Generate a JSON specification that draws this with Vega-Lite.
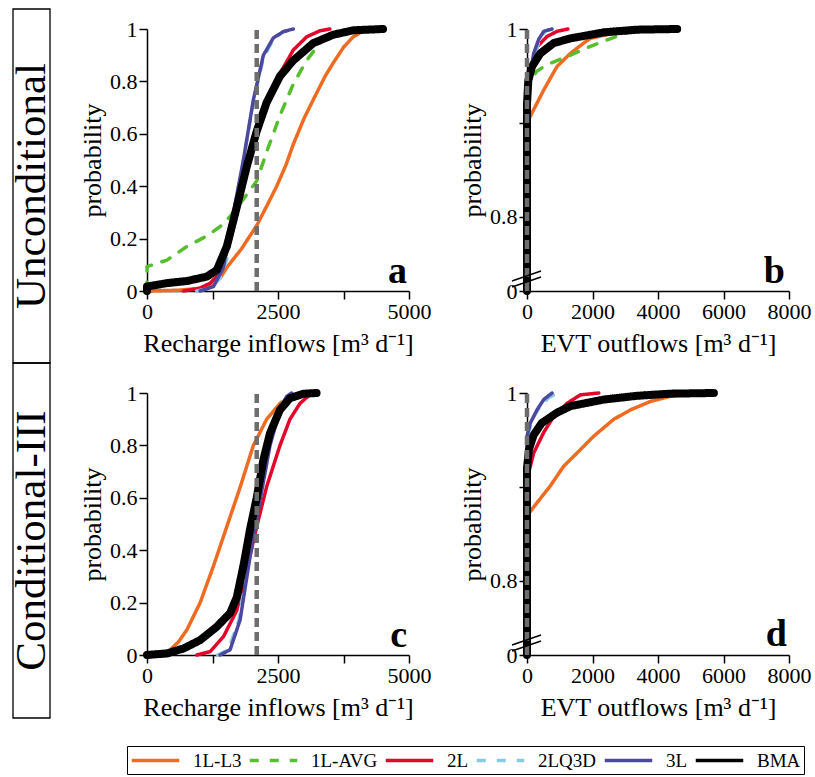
{
"$schema": "https://vega.github.io/schema/vega-lite/v6.json",
"background": "white",
"padding": {"left": 10, "top": 8, "right": 2, "bottom": 1},
"bounds": "flush",
"columns": 3,
"spacing": {"row": 102, "column": 118},
"datasets": {
"cdf": [
{"panel":"a","model":"1L-L3","x":0,"p":0},{"panel":"a","model":"1L-L3","x":600,"p":0.003},{"panel":"a","model":"1L-L3","x":1000,"p":0.01},{"panel":"a","model":"1L-L3","x":1205,"p":0.02},{"panel":"a","model":"1L-L3","x":1400,"p":0.05},{"panel":"a","model":"1L-L3","x":1523,"p":0.09},{"panel":"a","model":"1L-L3","x":1800,"p":0.16},{"panel":"a","model":"1L-L3","x":2094,"p":0.25},{"panel":"a","model":"1L-L3","x":2300,"p":0.33},{"panel":"a","model":"1L-L3","x":2475,"p":0.40},{"panel":"a","model":"1L-L3","x":2650,"p":0.48},{"panel":"a","model":"1L-L3","x":2792,"p":0.56},{"panel":"a","model":"1L-L3","x":3000,"p":0.66},{"panel":"a","model":"1L-L3","x":3173,"p":0.73},{"panel":"a","model":"1L-L3","x":3400,"p":0.82},{"panel":"a","model":"1L-L3","x":3553,"p":0.87},{"panel":"a","model":"1L-L3","x":3750,"p":0.93},{"panel":"a","model":"1L-L3","x":3934,"p":0.97},{"panel":"a","model":"1L-L3","x":4188,"p":1.0},
{"panel":"a","model":"1L-AVG","x":0,"p":0},{"panel":"a","model":"1L-AVG","x":0,"p":0.093},{"panel":"a","model":"1L-AVG","x":381,"p":0.118},{"panel":"a","model":"1L-AVG","x":761,"p":0.17},{"panel":"a","model":"1L-AVG","x":1142,"p":0.21},{"panel":"a","model":"1L-AVG","x":1396,"p":0.246},{"panel":"a","model":"1L-AVG","x":1586,"p":0.284},{"panel":"a","model":"1L-AVG","x":1800,"p":0.34},{"panel":"a","model":"1L-AVG","x":2094,"p":0.42},{"panel":"a","model":"1L-AVG","x":2300,"p":0.54},{"panel":"a","model":"1L-AVG","x":2538,"p":0.67},{"panel":"a","model":"1L-AVG","x":2792,"p":0.79},{"panel":"a","model":"1L-AVG","x":3046,"p":0.88},{"panel":"a","model":"1L-AVG","x":3299,"p":0.946},{"panel":"a","model":"1L-AVG","x":3553,"p":0.985},{"panel":"a","model":"1L-AVG","x":3934,"p":1.0},
{"panel":"a","model":"2L","x":698,"p":0},{"panel":"a","model":"2L","x":1000,"p":0.01},{"panel":"a","model":"2L","x":1206,"p":0.03},{"panel":"a","model":"2L","x":1400,"p":0.07},{"panel":"a","model":"2L","x":1600,"p":0.2},{"panel":"a","model":"2L","x":1800,"p":0.38},{"panel":"a","model":"2L","x":2000,"p":0.55},{"panel":"a","model":"2L","x":2200,"p":0.67},{"panel":"a","model":"2L","x":2400,"p":0.77},{"panel":"a","model":"2L","x":2538,"p":0.83},{"panel":"a","model":"2L","x":2792,"p":0.92},{"panel":"a","model":"2L","x":3046,"p":0.97},{"panel":"a","model":"2L","x":3299,"p":0.993},{"panel":"a","model":"2L","x":3490,"p":1.0},
{"panel":"a","model":"2LQ3D","x":950,"p":0},{"panel":"a","model":"2LQ3D","x":1200,"p":0.01},{"panel":"a","model":"2LQ3D","x":1400,"p":0.05},{"panel":"a","model":"2LQ3D","x":1520,"p":0.12},{"panel":"a","model":"2LQ3D","x":1650,"p":0.29},{"panel":"a","model":"2LQ3D","x":1840,"p":0.50},{"panel":"a","model":"2LQ3D","x":2030,"p":0.72},{"panel":"a","model":"2LQ3D","x":2221,"p":0.89},{"panel":"a","model":"2LQ3D","x":2411,"p":0.96},{"panel":"a","model":"2LQ3D","x":2601,"p":0.99},{"panel":"a","model":"2LQ3D","x":2750,"p":1.0},
{"panel":"a","model":"3L","x":1015,"p":0},{"panel":"a","model":"3L","x":1269,"p":0.017},{"panel":"a","model":"3L","x":1459,"p":0.09},{"panel":"a","model":"3L","x":1650,"p":0.30},{"panel":"a","model":"3L","x":1840,"p":0.50},{"panel":"a","model":"3L","x":2030,"p":0.73},{"panel":"a","model":"3L","x":2221,"p":0.90},{"panel":"a","model":"3L","x":2411,"p":0.966},{"panel":"a","model":"3L","x":2601,"p":0.99},{"panel":"a","model":"3L","x":2792,"p":1.0},
{"panel":"a","model":"BMA","x":0,"p":0},{"panel":"a","model":"BMA","x":0,"p":0.017},{"panel":"a","model":"BMA","x":381,"p":0.03},{"panel":"a","model":"BMA","x":761,"p":0.038},{"panel":"a","model":"BMA","x":1142,"p":0.055},{"panel":"a","model":"BMA","x":1332,"p":0.08},{"panel":"a","model":"BMA","x":1523,"p":0.17},{"panel":"a","model":"BMA","x":1713,"p":0.32},{"panel":"a","model":"BMA","x":1904,"p":0.475},{"panel":"a","model":"BMA","x":2094,"p":0.61},{"panel":"a","model":"BMA","x":2284,"p":0.72},{"panel":"a","model":"BMA","x":2538,"p":0.82},{"panel":"a","model":"BMA","x":2792,"p":0.88},{"panel":"a","model":"BMA","x":3173,"p":0.946},{"panel":"a","model":"BMA","x":3553,"p":0.978},{"panel":"a","model":"BMA","x":3934,"p":0.995},{"panel":"a","model":"BMA","x":4505,"p":1.0},
{"panel":"b","model":"1L-L3","x":0,"p":0},{"panel":"b","model":"1L-L3","x":0,"p":0.9},{"panel":"b","model":"1L-L3","x":102,"p":0.907},{"panel":"b","model":"1L-L3","x":510,"p":0.935},{"panel":"b","model":"1L-L3","x":917,"p":0.96},{"panel":"b","model":"1L-L3","x":1325,"p":0.974},{"panel":"b","model":"1L-L3","x":1732,"p":0.985},{"panel":"b","model":"1L-L3","x":1936,"p":0.99},{"panel":"b","model":"1L-L3","x":2800,"p":0.997},{"panel":"b","model":"1L-L3","x":3600,"p":1.0},
{"panel":"b","model":"1L-AVG","x":0,"p":0},{"panel":"b","model":"1L-AVG","x":0,"p":0.94},{"panel":"b","model":"1L-AVG","x":300,"p":0.955},{"panel":"b","model":"1L-AVG","x":611,"p":0.962},{"panel":"b","model":"1L-AVG","x":1325,"p":0.972},{"panel":"b","model":"1L-AVG","x":1834,"p":0.98},{"panel":"b","model":"1L-AVG","x":2344,"p":0.987},{"panel":"b","model":"1L-AVG","x":3057,"p":0.996},{"panel":"b","model":"1L-AVG","x":3260,"p":1.0},
{"panel":"b","model":"2L","x":0,"p":0},{"panel":"b","model":"2L","x":0,"p":0.93},{"panel":"b","model":"2L","x":150,"p":0.96},{"panel":"b","model":"2L","x":306,"p":0.981},{"panel":"b","model":"2L","x":611,"p":0.992},{"panel":"b","model":"2L","x":917,"p":0.9975},{"panel":"b","model":"2L","x":1250,"p":1.0},
{"panel":"b","model":"2LQ3D","x":0,"p":0},{"panel":"b","model":"2LQ3D","x":0,"p":0.93},{"panel":"b","model":"2LQ3D","x":80,"p":0.945},{"panel":"b","model":"2LQ3D","x":250,"p":0.975},{"panel":"b","model":"2LQ3D","x":400,"p":0.99},{"panel":"b","model":"2LQ3D","x":560,"p":0.998},{"panel":"b","model":"2LQ3D","x":800,"p":1.0},
{"panel":"b","model":"3L","x":0,"p":0},{"panel":"b","model":"3L","x":0,"p":0.93},{"panel":"b","model":"3L","x":51,"p":0.942},{"panel":"b","model":"3L","x":204,"p":0.974},{"panel":"b","model":"3L","x":357,"p":0.989},{"panel":"b","model":"3L","x":510,"p":0.9975},{"panel":"b","model":"3L","x":764,"p":1.0},
{"panel":"b","model":"BMA","x":0,"p":0},{"panel":"b","model":"BMA","x":0,"p":0.92},{"panel":"b","model":"BMA","x":40,"p":0.945},{"panel":"b","model":"BMA","x":153,"p":0.96},{"panel":"b","model":"BMA","x":408,"p":0.974},{"panel":"b","model":"BMA","x":815,"p":0.985},{"panel":"b","model":"BMA","x":1325,"p":0.99},{"panel":"b","model":"BMA","x":2344,"p":0.9964},{"panel":"b","model":"BMA","x":3363,"p":0.9993},{"panel":"b","model":"BMA","x":4586,"p":1.0},
{"panel":"c","model":"1L-L3","x":0,"p":0},{"panel":"c","model":"1L-L3","x":381,"p":0.003},{"panel":"c","model":"1L-L3","x":444,"p":0.02},{"panel":"c","model":"1L-L3","x":600,"p":0.05},{"panel":"c","model":"1L-L3","x":761,"p":0.096},{"panel":"c","model":"1L-L3","x":1015,"p":0.2},{"panel":"c","model":"1L-L3","x":1269,"p":0.34},{"panel":"c","model":"1L-L3","x":1523,"p":0.49},{"panel":"c","model":"1L-L3","x":1777,"p":0.64},{"panel":"c","model":"1L-L3","x":2030,"p":0.8},{"panel":"c","model":"1L-L3","x":2284,"p":0.9},{"panel":"c","model":"1L-L3","x":2538,"p":0.96},{"panel":"c","model":"1L-L3","x":2792,"p":0.994},{"panel":"c","model":"1L-L3","x":2919,"p":1.0},
{"panel":"c","model":"2L","x":952,"p":0},{"panel":"c","model":"2L","x":1206,"p":0.013},{"panel":"c","model":"2L","x":1459,"p":0.07},{"panel":"c","model":"2L","x":1713,"p":0.17},{"panel":"c","model":"2L","x":1904,"p":0.325},{"panel":"c","model":"2L","x":2094,"p":0.49},{"panel":"c","model":"2L","x":2284,"p":0.643},{"panel":"c","model":"2L","x":2538,"p":0.8},{"panel":"c","model":"2L","x":2728,"p":0.9},{"panel":"c","model":"2L","x":2919,"p":0.96},{"panel":"c","model":"2L","x":3109,"p":0.994},{"panel":"c","model":"2L","x":3236,"p":1.0},
{"panel":"c","model":"2LQ3D","x":1350,"p":0},{"panel":"c","model":"2LQ3D","x":1550,"p":0.02},{"panel":"c","model":"2LQ3D","x":1750,"p":0.13},{"panel":"c","model":"2LQ3D","x":1950,"p":0.37},{"panel":"c","model":"2LQ3D","x":2140,"p":0.59},{"panel":"c","model":"2LQ3D","x":2330,"p":0.8},{"panel":"c","model":"2LQ3D","x":2520,"p":0.93},{"panel":"c","model":"2LQ3D","x":2650,"p":0.985},{"panel":"c","model":"2LQ3D","x":2780,"p":1.0},
{"panel":"c","model":"3L","x":1396,"p":0},{"panel":"c","model":"3L","x":1586,"p":0.02},{"panel":"c","model":"3L","x":1777,"p":0.134},{"panel":"c","model":"3L","x":1967,"p":0.376},{"panel":"c","model":"3L","x":2157,"p":0.59},{"panel":"c","model":"3L","x":2348,"p":0.8},{"panel":"c","model":"3L","x":2538,"p":0.936},{"panel":"c","model":"3L","x":2665,"p":0.987},{"panel":"c","model":"3L","x":2760,"p":1.0},
{"panel":"c","model":"BMA","x":0,"p":0},{"panel":"c","model":"BMA","x":381,"p":0.006},{"panel":"c","model":"BMA","x":698,"p":0.025},{"panel":"c","model":"BMA","x":1015,"p":0.057},{"panel":"c","model":"BMA","x":1332,"p":0.108},{"panel":"c","model":"BMA","x":1586,"p":0.16},{"panel":"c","model":"BMA","x":1713,"p":0.22},{"panel":"c","model":"BMA","x":1840,"p":0.34},{"panel":"c","model":"BMA","x":1967,"p":0.48},{"panel":"c","model":"BMA","x":2094,"p":0.6},{"panel":"c","model":"BMA","x":2221,"p":0.745},{"panel":"c","model":"BMA","x":2348,"p":0.847},{"panel":"c","model":"BMA","x":2538,"p":0.936},{"panel":"c","model":"BMA","x":2728,"p":0.98},{"panel":"c","model":"BMA","x":2982,"p":0.997},{"panel":"c","model":"BMA","x":3236,"p":1.0},
{"panel":"d","model":"1L-L3","x":0,"p":0},{"panel":"d","model":"1L-L3","x":0,"p":0.869},{"panel":"d","model":"1L-L3","x":306,"p":0.883},{"panel":"d","model":"1L-L3","x":713,"p":0.901},{"panel":"d","model":"1L-L3","x":1121,"p":0.922},{"panel":"d","model":"1L-L3","x":1529,"p":0.936},{"panel":"d","model":"1L-L3","x":2038,"p":0.954},{"panel":"d","model":"1L-L3","x":2650,"p":0.972},{"panel":"d","model":"1L-L3","x":3160,"p":0.982},{"panel":"d","model":"1L-L3","x":3771,"p":0.991},{"panel":"d","model":"1L-L3","x":4382,"p":0.9965},{"panel":"d","model":"1L-L3","x":5197,"p":0.9993},{"panel":"d","model":"1L-L3","x":5605,"p":1.0},
{"panel":"d","model":"2L","x":0,"p":0},{"panel":"d","model":"2L","x":0,"p":0.908},{"panel":"d","model":"2L","x":204,"p":0.936},{"panel":"d","model":"2L","x":510,"p":0.958},{"panel":"d","model":"2L","x":815,"p":0.975},{"panel":"d","model":"2L","x":1223,"p":0.989},{"panel":"d","model":"2L","x":1630,"p":0.998},{"panel":"d","model":"2L","x":2191,"p":1.0},
{"panel":"d","model":"2LQ3D","x":0,"p":0},{"panel":"d","model":"2LQ3D","x":0,"p":0.95},{"panel":"d","model":"2LQ3D","x":153,"p":0.972},{"panel":"d","model":"2LQ3D","x":408,"p":0.986},{"panel":"d","model":"2LQ3D","x":662,"p":0.995},{"panel":"d","model":"2LQ3D","x":917,"p":1.0},
{"panel":"d","model":"3L","x":0,"p":0},{"panel":"d","model":"3L","x":0,"p":0.954},{"panel":"d","model":"3L","x":102,"p":0.968},{"panel":"d","model":"3L","x":306,"p":0.982},{"panel":"d","model":"3L","x":510,"p":0.993},{"panel":"d","model":"3L","x":764,"p":1.0},
{"panel":"d","model":"BMA","x":0,"p":0},{"panel":"d","model":"BMA","x":0,"p":0.92},{"panel":"d","model":"BMA","x":60,"p":0.94},{"panel":"d","model":"BMA","x":200,"p":0.955},{"panel":"d","model":"BMA","x":450,"p":0.968},{"panel":"d","model":"BMA","x":917,"p":0.979},{"panel":"d","model":"BMA","x":1325,"p":0.986},{"panel":"d","model":"BMA","x":2344,"p":0.993},{"panel":"d","model":"BMA","x":3363,"p":0.997},{"panel":"d","model":"BMA","x":4382,"p":0.9993},{"panel":"d","model":"BMA","x":5707,"p":1.0}
],
"ref": [
{"panel":"a","x":2094,"p0":0,"p1":1},{"panel":"b","x":0,"p0":0,"p1":1},{"panel":"c","x":2094,"p0":0,"p1":1},{"panel":"d","x":0,"p0":0,"p1":1}
],
"brk": [
{"panel":"b","x":-458,"x2":427,"y":0.7313,"y2":0.7419},{"panel":"b","x":-458,"x2":427,"y":0.7249,"y2":0.7355},
{"panel":"d","x":-458,"x2":427,"y":0.7313,"y2":0.7419},{"panel":"d","x":-458,"x2":427,"y":0.7249,"y2":0.7355}
],
"letters": [
{"panel":"a","x":4962,"p":0.0305,"t":"a"},{"panel":"b","x":7878,"p":0.7291,"t":"b"},{"panel":"c","x":4962,"p":0.03,"t":"c"},{"panel":"d","x":7939,"p":0.7302,"t":"d"}
],
"rows": [
{"row":1,"t":"Unconditional","x0":0,"x1":2.3125,"xm":1.15625,"lo":-0.2748,"hi":1.0763,"ym":0.4008},
{"row":2,"t":"Conditional-III","x0":0,"x1":2.3125,"xm":1.15625,"lo":-0.2405,"hi":1.1145,"ym":0.437}
]
},
"concat": [
 {"width":16,"height":262,"data":{"name":"rows"},"transform":[{"filter":"datum.row == 1"}],
  "layer":[
   {"mark":{"type":"rect","fill":"#ffffff","fillOpacity":0,"stroke":"#000000","strokeWidth":1.3},
    "encoding":{"x":{"field":"x0","type":"quantitative","scale":{"domain":[0,1],"nice":false},"axis":null},"x2":{"field":"x1"},"y":{"field":"lo","type":"quantitative","scale":{"domain":[0,1],"nice":false},"axis":null},"y2":{"field":"hi"}}},
   {"mark":{"type":"text","angle":270,"fontSize":43,"font":"Liberation Serif","color":"#000000","baseline":"middle","align":"center"},
    "encoding":{"x":{"field":"xm","type":"quantitative"},"y":{"field":"ym","type":"quantitative"},"text":{"field":"t"}}}
  ]},
  {"width":262,"height":262,"layer":[
   {"data":{"name":"cdf"},"transform":[{"filter":"datum.panel == 'a'"}],
    "mark":{"type":"line","strokeCap":"round","strokeJoin":"round"},
    "encoding":{
     "x":{"field":"x","type":"quantitative","scale":{"domain":[0,5000],"nice":false},"axis":{"title":"Recharge inflows [m³ d⁻¹]","values":[0,1250,2500,3750,5000],"format":"d","labelExpr":"datum.value % 2500 == 0 ? datum.label : ''"}},
     "y":{"field":"p","type":"quantitative","scale":{"domain":[0,1],"nice":false},"axis":{"title":"probability","values":[0,0.1,0.2,0.3,0.4,0.5,0.6,0.7,0.8,0.9,1],"format":"~g","labelExpr":"round(datum.value*10) % 2 == 0 ? datum.label : ''"}},
     "color":{"field":"model","type":"nominal","scale":{"domain":["1L-L3","1L-AVG","2L","2LQ3D","3L","BMA"],"range":["#EF6B22","#58BE2F","#E3062B","#86CBE3","#4C48A0","#000000"]},"legend":{"title":null,"orient":"none","legendX":114,"legendY":717,"direction":"horizontal","columns":6,"gridAlign":"none","symbolType":"M-2.5,0H2.5","symbolSize":361,"symbolStrokeWidth":3.5,"symbolOffset":14,"labelFont":"Liberation Serif","labelFontSize":19,"labelColor":"#000000","labelOffset":26,"columnPadding":0,"padding":3,"strokeColor":"#000000","fillColor":"#ffffff"}},
     "strokeDash":{"field":"model","type":"nominal","scale":{"domain":["1L-L3","1L-AVG","2L","2LQ3D","3L","BMA"],"range":[[1,0],[9,11],[1,0],[9,11],[1,0],[1,0]]},"legend":null},
     "strokeWidth":{"condition":{"test":"datum.model == 'BMA'","value":8},"value":3.5},
     "order":[{"field":"p","type":"quantitative"},{"field":"x","type":"quantitative"}]
    }},
   {"data":{"name":"ref"},"transform":[{"filter":"datum.panel == 'a'"}],
    "mark":{"type":"rule","color":"#6d6d6d","strokeWidth":4.5,"strokeDash":[9,5],"strokeCap":"butt"},
    "encoding":{"x":{"field":"x","type":"quantitative"},"y":{"field":"p0","type":"quantitative"},"y2":{"field":"p1"}}},
   {"data":{"name":"letters"},"transform":[{"filter":"datum.panel == 'a'"}],
    "mark":{"type":"text","align":"right","baseline":"alphabetic","fontSize":38,"fontWeight":"bold","font":"Liberation Serif","color":"#000000"},
    "encoding":{"x":{"field":"x","type":"quantitative"},"y":{"field":"p","type":"quantitative"},"text":{"field":"t"}}}
  ]},
  {"width":262,"height":262,"layer":[
   {"data":{"name":"cdf"},"transform":[{"filter":"datum.panel == 'b'"}],
    "mark":{"type":"line","strokeCap":"round","strokeJoin":"round"},
    "encoding":{
     "x":{"field":"x","type":"quantitative","scale":{"domain":[0,8000],"nice":false},"axis":{"title":"EVT outflows [m³ d⁻¹]","values":[0,1000,2000,3000,4000,5000,6000,7000,8000],"format":"d","labelExpr":"datum.value % 2000 == 0 ? datum.label : ''"}},
     "y":{"field":"p","type":"quantitative","scale":{"domain":[0.7206,1],"nice":false,"zero":false,"clamp":true},"axis":{"title":"probability","values":[0.7206,0.8,0.9,1],"format":"~g","labelExpr":"datum.value < 0.75 ? '0' : (round(datum.value*10) == 9 ? '' : datum.label)"}},
     "color":{"field":"model","type":"nominal","scale":{"domain":["1L-L3","1L-AVG","2L","2LQ3D","3L","BMA"],"range":["#EF6B22","#58BE2F","#E3062B","#86CBE3","#4C48A0","#000000"]},"legend":{"title":null,"orient":"none","legendX":114,"legendY":717,"direction":"horizontal","columns":6,"gridAlign":"none","symbolType":"M-2.5,0H2.5","symbolSize":361,"symbolStrokeWidth":3.5,"symbolOffset":14,"labelFont":"Liberation Serif","labelFontSize":19,"labelColor":"#000000","labelOffset":26,"columnPadding":0,"padding":3,"strokeColor":"#000000","fillColor":"#ffffff"}},
     "strokeDash":{"field":"model","type":"nominal","scale":{"domain":["1L-L3","1L-AVG","2L","2LQ3D","3L","BMA"],"range":[[1,0],[9,11],[1,0],[9,11],[1,0],[1,0]]},"legend":null},
     "strokeWidth":{"condition":{"test":"datum.model == 'BMA'","value":8},"value":3.5},
     "order":[{"field":"p","type":"quantitative"},{"field":"x","type":"quantitative"}]
    }},
   {"data":{"name":"ref"},"transform":[{"filter":"datum.panel == 'b'"}],
    "mark":{"type":"rule","color":"#6d6d6d","strokeWidth":4.5,"strokeDash":[9,5],"strokeCap":"butt"},
    "encoding":{"x":{"field":"x","type":"quantitative"},"y":{"field":"p0","type":"quantitative"},"y2":{"field":"p1"}}},
   {"data":{"name":"brk"},"transform":[{"filter":"datum.panel == 'b'"}],
    "mark":{"type":"rule","color":"#000000","strokeWidth":1.5},
    "encoding":{"x":{"field":"x","type":"quantitative"},"x2":{"field":"x2"},"y":{"field":"y","type":"quantitative"},"y2":{"field":"y2"}}},
   {"data":{"name":"letters"},"transform":[{"filter":"datum.panel == 'b'"}],
    "mark":{"type":"text","align":"right","baseline":"alphabetic","fontSize":38,"fontWeight":"bold","font":"Liberation Serif","color":"#000000"},
    "encoding":{"x":{"field":"x","type":"quantitative"},"y":{"field":"p","type":"quantitative"},"text":{"field":"t"}}}
  ]},
 {"width":16,"height":262,"data":{"name":"rows"},"transform":[{"filter":"datum.row == 2"}],
  "layer":[
   {"mark":{"type":"rect","fill":"#ffffff","fillOpacity":0,"stroke":"#000000","strokeWidth":1.3},
    "encoding":{"x":{"field":"x0","type":"quantitative","scale":{"domain":[0,1],"nice":false},"axis":null},"x2":{"field":"x1"},"y":{"field":"lo","type":"quantitative","scale":{"domain":[0,1],"nice":false},"axis":null},"y2":{"field":"hi"}}},
   {"mark":{"type":"text","angle":270,"fontSize":43,"font":"Liberation Serif","color":"#000000","baseline":"middle","align":"center"},
    "encoding":{"x":{"field":"xm","type":"quantitative"},"y":{"field":"ym","type":"quantitative"},"text":{"field":"t"}}}
  ]},
  {"width":262,"height":262,"layer":[
   {"data":{"name":"cdf"},"transform":[{"filter":"datum.panel == 'c'"}],
    "mark":{"type":"line","strokeCap":"round","strokeJoin":"round"},
    "encoding":{
     "x":{"field":"x","type":"quantitative","scale":{"domain":[0,5000],"nice":false},"axis":{"title":"Recharge inflows [m³ d⁻¹]","values":[0,1250,2500,3750,5000],"format":"d","labelExpr":"datum.value % 2500 == 0 ? datum.label : ''"}},
     "y":{"field":"p","type":"quantitative","scale":{"domain":[0,1],"nice":false},"axis":{"title":"probability","values":[0,0.1,0.2,0.3,0.4,0.5,0.6,0.7,0.8,0.9,1],"format":"~g","labelExpr":"round(datum.value*10) % 2 == 0 ? datum.label : ''"}},
     "color":{"field":"model","type":"nominal","scale":{"domain":["1L-L3","1L-AVG","2L","2LQ3D","3L","BMA"],"range":["#EF6B22","#58BE2F","#E3062B","#86CBE3","#4C48A0","#000000"]},"legend":{"title":null,"orient":"none","legendX":114,"legendY":717,"direction":"horizontal","columns":6,"gridAlign":"none","symbolType":"M-2.5,0H2.5","symbolSize":361,"symbolStrokeWidth":3.5,"symbolOffset":14,"labelFont":"Liberation Serif","labelFontSize":19,"labelColor":"#000000","labelOffset":26,"columnPadding":0,"padding":3,"strokeColor":"#000000","fillColor":"#ffffff"}},
     "strokeDash":{"field":"model","type":"nominal","scale":{"domain":["1L-L3","1L-AVG","2L","2LQ3D","3L","BMA"],"range":[[1,0],[9,11],[1,0],[9,11],[1,0],[1,0]]},"legend":null},
     "strokeWidth":{"condition":{"test":"datum.model == 'BMA'","value":8},"value":3.5},
     "order":[{"field":"p","type":"quantitative"},{"field":"x","type":"quantitative"}]
    }},
   {"data":{"name":"ref"},"transform":[{"filter":"datum.panel == 'c'"}],
    "mark":{"type":"rule","color":"#6d6d6d","strokeWidth":4.5,"strokeDash":[9,5],"strokeCap":"butt"},
    "encoding":{"x":{"field":"x","type":"quantitative"},"y":{"field":"p0","type":"quantitative"},"y2":{"field":"p1"}}},
   {"data":{"name":"letters"},"transform":[{"filter":"datum.panel == 'c'"}],
    "mark":{"type":"text","align":"right","baseline":"alphabetic","fontSize":38,"fontWeight":"bold","font":"Liberation Serif","color":"#000000"},
    "encoding":{"x":{"field":"x","type":"quantitative"},"y":{"field":"p","type":"quantitative"},"text":{"field":"t"}}}
  ]},
  {"width":262,"height":262,"layer":[
   {"data":{"name":"cdf"},"transform":[{"filter":"datum.panel == 'd'"}],
    "mark":{"type":"line","strokeCap":"round","strokeJoin":"round"},
    "encoding":{
     "x":{"field":"x","type":"quantitative","scale":{"domain":[0,8000],"nice":false},"axis":{"title":"EVT outflows [m³ d⁻¹]","values":[0,1000,2000,3000,4000,5000,6000,7000,8000],"format":"d","labelExpr":"datum.value % 2000 == 0 ? datum.label : ''"}},
     "y":{"field":"p","type":"quantitative","scale":{"domain":[0.7206,1],"nice":false,"zero":false,"clamp":true},"axis":{"title":"probability","values":[0.7206,0.8,0.9,1],"format":"~g","labelExpr":"datum.value < 0.75 ? '0' : (round(datum.value*10) == 9 ? '' : datum.label)"}},
     "color":{"field":"model","type":"nominal","scale":{"domain":["1L-L3","1L-AVG","2L","2LQ3D","3L","BMA"],"range":["#EF6B22","#58BE2F","#E3062B","#86CBE3","#4C48A0","#000000"]},"legend":{"title":null,"orient":"none","legendX":114,"legendY":717,"direction":"horizontal","columns":6,"gridAlign":"none","symbolType":"M-2.5,0H2.5","symbolSize":361,"symbolStrokeWidth":3.5,"symbolOffset":14,"labelFont":"Liberation Serif","labelFontSize":19,"labelColor":"#000000","labelOffset":26,"columnPadding":0,"padding":3,"strokeColor":"#000000","fillColor":"#ffffff"}},
     "strokeDash":{"field":"model","type":"nominal","scale":{"domain":["1L-L3","1L-AVG","2L","2LQ3D","3L","BMA"],"range":[[1,0],[9,11],[1,0],[9,11],[1,0],[1,0]]},"legend":null},
     "strokeWidth":{"condition":{"test":"datum.model == 'BMA'","value":8},"value":3.5},
     "order":[{"field":"p","type":"quantitative"},{"field":"x","type":"quantitative"}]
    }},
   {"data":{"name":"ref"},"transform":[{"filter":"datum.panel == 'd'"}],
    "mark":{"type":"rule","color":"#6d6d6d","strokeWidth":4.5,"strokeDash":[9,5],"strokeCap":"butt"},
    "encoding":{"x":{"field":"x","type":"quantitative"},"y":{"field":"p0","type":"quantitative"},"y2":{"field":"p1"}}},
   {"data":{"name":"brk"},"transform":[{"filter":"datum.panel == 'd'"}],
    "mark":{"type":"rule","color":"#000000","strokeWidth":1.5},
    "encoding":{"x":{"field":"x","type":"quantitative"},"x2":{"field":"x2"},"y":{"field":"y","type":"quantitative"},"y2":{"field":"y2"}}},
   {"data":{"name":"letters"},"transform":[{"filter":"datum.panel == 'd'"}],
    "mark":{"type":"text","align":"right","baseline":"alphabetic","fontSize":38,"fontWeight":"bold","font":"Liberation Serif","color":"#000000"},
    "encoding":{"x":{"field":"x","type":"quantitative"},"y":{"field":"p","type":"quantitative"},"text":{"field":"t"}}}
  ]}
],
"config": {
 "view": {"stroke": null},
 "font": "Liberation Serif",
 "axis": {"domainColor":"#000000","domainWidth":1.5,"tickColor":"#000000","tickWidth":1.5,"tickSize":8,"labelFont":"Liberation Serif","labelFontSize":22,"labelColor":"#000000","titleFont":"Liberation Serif","titleFontSize":26,"titleFontWeight":"normal","titleColor":"#000000","grid":false,"labelFlush":false,"labelOverlap":false,"labelPadding":2},
 "axisY": {"titlePadding": 4},
 "axisX": {"titlePadding": 8}
}
}
